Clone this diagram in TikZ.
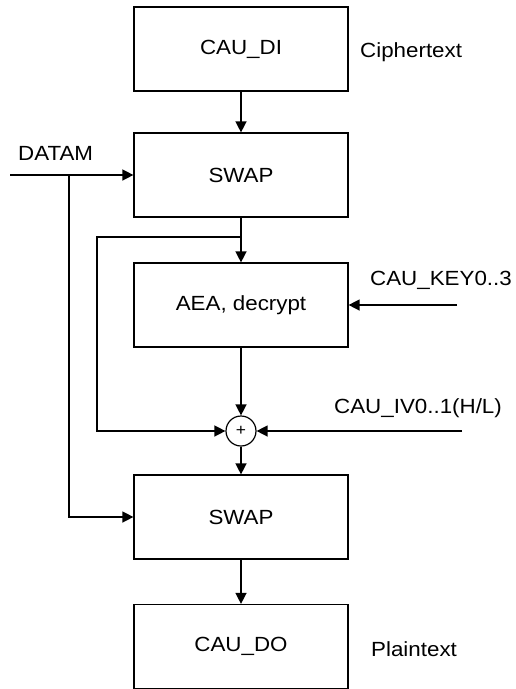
\documentclass[tikz,border=0pt]{standalone}
\usepackage{fontspec}
\setmainfont[FakeStretch=1.09]{Liberation Sans}
\usetikzlibrary{arrows.meta}
\begin{document}
\begin{tikzpicture}[x=1pt,y=-1pt,
  blk/.style={draw, line width=1.2pt, minimum width=214pt, minimum height=84pt, inner sep=0pt, font=\fontsize{20.5}{23}\selectfont},
  lbl/.style={anchor=base west, inner sep=0pt, font=\fontsize{20.5}{23}\selectfont},
  arr/.style={line width=1.4pt, -{Triangle[length=11pt,width=11pt]}},
  xorc/.style={draw, circle, line width=1.2pt, minimum size=30pt, inner sep=0pt, font=\fontsize{16}{16}\selectfont}]
\useasboundingbox (0,0) rectangle (516,689);
\node[blk] (di) at (241,49) {CAU\_DI};
\node[blk] (s1) at (241,175) {SWAP};
\node[blk] (aea) at (241,305) {AEA, decrypt};
\node[xorc] (xor) at (241,431) {+};
\node[blk] (s2) at (241,517) {SWAP};
\node[blk] (do) at (241,646.5) {CAU\_DO};
\node[lbl] (ct) at (360,57) {Ciphertext};
\node[lbl] (dl) at (18,160) {DATAM};
\node[lbl] (kl) at (370,285) {CAU\_KEY0..3};
\node[lbl] (ivl) at (334,413) {CAU\_IV0..1(H/L)};
\node[lbl] (pt) at (371,656) {Plaintext};
\coordinate (din) at (10,175);
\coordinate (dm) at (69,175);
\coordinate (fb) at (241,237);
\coordinate (fbl) at (97,237);
\coordinate (kin) at (457,305);
\coordinate (ivin) at (462,431);
\draw[arr] (di) -- (s1);
\draw[arr] (din) -- (s1.west);
\draw[arr] (s1) -- (aea);
\draw[arr] (fb) -- (fbl) |- (xor.west);
\draw[arr] (dm) |- (s2.west);
\draw[arr] (kin) -- (aea.east);
\draw[arr] (ivin) -- (xor.east);
\draw[arr] (aea) -- (xor);
\draw[arr] (xor) -- (s2);
\draw[arr] (s2) -- (do);
\end{tikzpicture}
\end{document}
